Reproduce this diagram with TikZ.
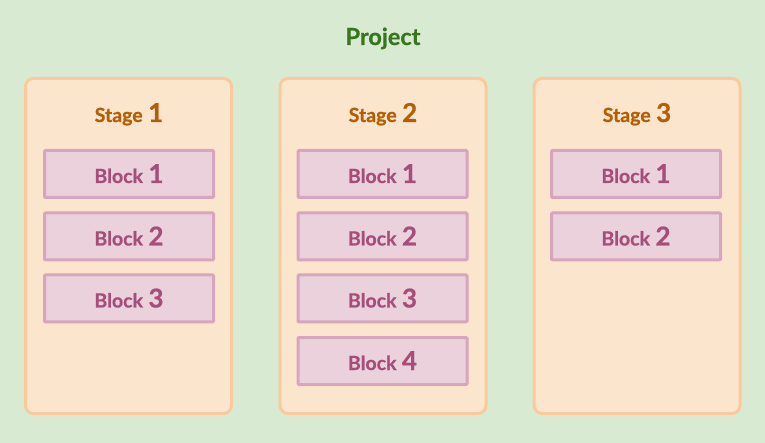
\documentclass[tikz,border=0pt]{standalone}
\usepackage{fontspec}
\setmainfont{Lato}[BoldFeatures={FakeBold=0.6}]
\definecolor{bggreen}{HTML}{D9EAD3}
\definecolor{projtext}{HTML}{38761D}
\definecolor{stagefill}{HTML}{FCE5CD}
\definecolor{stageline}{HTML}{F9CB9C}
\definecolor{stagetext}{HTML}{B45F06}
\definecolor{blockfill}{HTML}{EAD1DC}
\definecolor{blockline}{HTML}{D5A6BD}
\definecolor{blocktext}{HTML}{A64D79}
\newcommand{\mylab}[2]{{\fontsize{19.5}{22}\selectfont #1}\hspace{5.5pt}{\fontsize{26}{28}\selectfont #2}}
\tikzset{
  stagebox/.style={draw=stageline, fill=stagefill, line width=3pt, rounded corners=8pt,
    minimum width=206pt, minimum height=335pt, inner sep=0pt},
  blockbox/.style={draw=blockline, fill=blockfill, line width=3pt, rounded corners=1pt,
    minimum width=169pt, minimum height=47pt, inner sep=0pt},
  stagelabel/.style={text=stagetext, font=\bfseries, anchor=base, inner sep=0pt},
  blocklabel/.style={text=blocktext, font=\bfseries, anchor=base, inner sep=0pt},
  projlabel/.style={text=projtext, font=\bfseries\fontsize{23.5}{26}\selectfont, anchor=base, inner sep=0pt}
}
\begin{document}
\begin{tikzpicture}[x=1pt,y=-1pt]
\fill[bggreen] (0,0) rectangle (765,443);
\useasboundingbox (0,0) rectangle (765,443);
\node[projlabel] (proj) at (383,45) {Project};
% stages
\node[stagebox] (s1) at (128.5,246) {};
\node[stagebox] (s2) at (383,246) {};
\node[stagebox] (s3) at (637,246) {};
\node[stagelabel] (s1l) at (129,122) {\mylab{Stage}{1}};
\node[stagelabel] (s2l) at (383,122) {\mylab{Stage}{2}};
\node[stagelabel] (s3l) at (637,122) {\mylab{Stage}{3}};
% stage 1 blocks
\node[blockbox] (b11) at (129,174) {};
\node[blockbox] (b12) at (129,236.5) {};
\node[blockbox] (b13) at (129,298.5) {};
\node[blocklabel] (t11) at (129,183) {\mylab{Block}{1}};
\node[blocklabel] (t12) at (129,245.5) {\mylab{Block}{2}};
\node[blocklabel] (t13) at (129,307.5) {\mylab{Block}{3}};
% stage 2 blocks
\node[blockbox] (b21) at (382.5,174) {};
\node[blockbox] (b22) at (382.5,236.5) {};
\node[blockbox] (b23) at (382.5,298.5) {};
\node[blockbox] (b24) at (382.5,361) {};
\node[blocklabel] (t21) at (382.5,183) {\mylab{Block}{1}};
\node[blocklabel] (t22) at (382.5,245.5) {\mylab{Block}{2}};
\node[blocklabel] (t23) at (382.5,307.5) {\mylab{Block}{3}};
\node[blocklabel] (t24) at (382.5,370) {\mylab{Block}{4}};
% stage 3 blocks
\node[blockbox] (b31) at (636,174) {};
\node[blockbox] (b32) at (636,236.5) {};
\node[blocklabel] (t31) at (636,183) {\mylab{Block}{1}};
\node[blocklabel] (t32) at (636,245.5) {\mylab{Block}{2}};
\end{tikzpicture}
\end{document}
